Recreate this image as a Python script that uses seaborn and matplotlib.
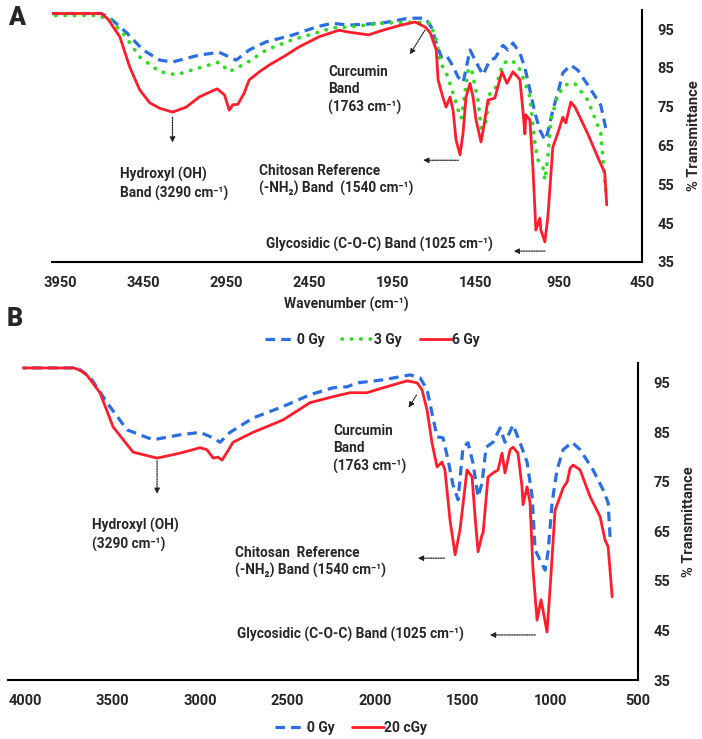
import matplotlib
matplotlib.use('Agg')
import matplotlib.pyplot as plt
import seaborn as sns

# ---- panel A data (wavenumber cm-1, % transmittance) ----
wn_a_0 = [4000, 3700, 3640, 3548, 3450, 3350, 3273, 3112, 2992, 2890, 2812, 2710, 2554, 2410,
          2314, 2214, 2015, 1854, 1753, 1717, 1687, 1657, 1627, 1597, 1555, 1525, 1484, 1448,
          1406, 1364, 1334, 1286, 1256, 1226, 1184, 1154, 1124, 1094, 1064, 1034, 1016, 986,
          956, 926, 878, 836, 776, 698, 668]
t_a_0 = [99, 99, 97.5, 94, 89.6, 87, 86.5, 88.3, 89, 87, 89.6, 91.7, 93.4, 95.5,
         96.5, 96, 96.5, 97.8, 97.8, 95.5, 91.4, 87.8, 88.3, 86.2, 82.6, 81.3, 89.6, 86.5,
         83.2, 87, 87.5, 90.8, 89.6, 91.4, 88.8, 85, 79.3, 73.4, 69, 66.4, 68.5, 74.1,
         78.5, 83.7, 85.7, 84.4, 80.6, 75.4, 69.5]

wn_a_3 = [4000, 3720, 3650, 3572, 3470, 3350, 3250, 3112, 2992, 2932, 2830, 2710, 2554, 2392,
          2314, 2214, 2015, 1814, 1723, 1687, 1663, 1633, 1597, 1555, 1537, 1495, 1477, 1436,
          1418, 1394, 1364, 1334, 1286, 1238, 1196, 1166, 1124, 1094, 1076, 1046, 1034, 1016,
          998, 956, 914, 854, 776, 698, 668]
t_a_3 = [98.5, 98.5, 97.3, 94, 87.8, 84, 83.2, 85, 86.5, 84, 86.2, 89.6, 92.2, 94.2,
         95.3, 95.5, 96.5, 96.8, 96.5, 92.2, 86.2, 84.4, 80, 74.1, 72, 84.4, 85, 76.7,
         69.5, 69.8, 78.5, 79.3, 86.2, 87, 85.7, 82.6, 77.5, 65.6, 61.3, 59.5, 56.1, 62,
         71.6, 78, 80.6, 81, 76.7, 68.2, 53.5]

wn_a_6 = [4000, 3700, 3660, 3590, 3530, 3470, 3410, 3351, 3273, 3190, 3112, 3052, 3004, 2960,
          2932, 2910, 2880, 2842, 2812, 2750, 2692, 2600, 2512, 2392, 2272, 2214, 2094, 2000,
          1900, 1814, 1753, 1723, 1687, 1676, 1646, 1628, 1604, 1586, 1568, 1544, 1526, 1508,
          1484, 1466, 1448, 1418, 1406, 1376, 1335, 1292, 1262, 1226, 1184, 1166, 1154, 1148,
          1124, 1106, 1088, 1064, 1058, 1034, 1016, 986, 956, 926, 908, 878, 854, 820,
          776, 716, 674, 662]
t_a_6 = [99, 99, 97.5, 93, 85.2, 79.3, 76, 74.6, 73.6, 74.9, 77.5, 78.7, 79.6, 78,
         74.1, 75.5, 75.6, 78.5, 81.9, 84, 85.7, 88, 90.4, 93, 94.7, 94.2, 93.5, 94.8,
         96, 96.8, 95.5, 94, 89.6, 81.9, 77.2, 74.9, 77.5, 74.1, 66.4, 62.6, 68.2, 77.5,
         81, 77.5, 71.6, 65.9, 68.7, 76.7, 77.2, 84, 81, 84, 82, 74, 68, 72.9,
         71.6, 59.5, 43.2, 46.3, 43.2, 40.2, 46.6, 64.6, 68.2, 72.3, 70.8, 76.2, 75, 72,
         68, 62, 58, 49.7]

# ---- panel B data ----
wn_b_0 = [4010, 3700, 3629, 3532, 3417, 3269, 3115, 3001, 2926, 2886, 2829, 2698, 2527, 2372,
          2241, 2161, 2100, 1955, 1801, 1744, 1704, 1676, 1647, 1613, 1584, 1556, 1527, 1499,
          1470, 1442, 1413, 1390, 1367, 1327, 1287, 1259, 1213, 1173, 1133, 1104, 1087, 1059,
          1030, 1013, 990, 962, 927, 876, 830, 756, 699, 670, 659]
t_b_0 = [98, 98, 96.2, 91, 85.5, 83.5, 84.5, 85, 83.9, 83, 85, 87.9, 90.2, 92.6,
         94, 94.2, 95, 95.6, 96.6, 96, 93.6, 88.9, 84.1, 83.9, 79.4, 74.4, 71.4, 82,
         82.9, 78.8, 72, 74.8, 82, 83, 85.9, 83, 86.5, 82.9, 79, 72, 61.3, 59.2,
         57.2, 60.9, 70.8, 77.4, 81.5, 83, 81.5, 77.4, 73.4, 70.8, 63.9]

wn_b_20 = [4010, 3720, 3680, 3646, 3572, 3497, 3383, 3246, 3115, 3001, 2961, 2926, 2898, 2875,
           2846, 2812, 2698, 2527, 2372, 2241, 2144, 2047, 1955, 1818, 1761, 1733, 1704, 1676,
           1647, 1619, 1602, 1573, 1544, 1516, 1476, 1447, 1430, 1413, 1390, 1384, 1356, 1327,
           1299, 1276, 1259, 1230, 1213, 1185, 1162, 1156, 1133, 1116, 1099, 1076, 1053, 1042,
           1019, 1001, 973, 945, 927, 904, 887, 870, 830, 773, 716, 688, 670, 647]
t_b_20 = [98, 98, 97.4, 96.5, 93, 86.1, 81, 79.8, 80.8, 81.9, 81.5, 79.8, 80, 79.4,
          81, 83, 85, 87.5, 91, 92.2, 93, 93, 94, 95.4, 95, 93.6, 89.5, 82.9,
          78, 79, 77.4, 67.3, 60.3, 65.3, 77.4, 76, 68, 60.9, 64.3, 64.7, 76, 76.8,
          77.4, 80.8, 76.8, 81.5, 82, 80.8, 74, 70.4, 74, 70.8, 57.2, 47.1, 51.2, 49.1,
          44.7, 53.8, 69.3, 72, 73.8, 75, 77.8, 78.4, 77.4, 72, 68, 63.3, 61.9, 51.8]

ticks_a = [3950, 3450, 2950, 2450, 1950, 1450, 950, 450]
ticks_b = [4000, 3500, 3000, 2500, 2000, 1500, 1000, 500]
ticks_y = [35, 45, 55, 65, 75, 85, 95]

BLUE = '#2b6ee3'
GREEN = '#2fdc1e'
RED = '#ff1c2b'

sns.set_style('white')
plt.rcParams['font.family'] = ['Roboto', 'DejaVu Sans']
plt.rcParams['font.weight'] = 'bold'

fig = plt.figure(figsize=(7.02, 7.39), dpi=100)
ax_a = fig.add_axes([0.0735, 0.6455, 0.841, 0.3415])
ax_b = fig.add_axes([0.0107, 0.0798, 0.898, 0.429])

dash = dict(ls=(0, (3, 1.9)), lw=2.3, color=BLUE)
dots = dict(ls=(0, (0.1, 2.4)), lw=2.7, color=GREEN, dash_capstyle='round')
solid = dict(ls='-', lw=2.0, color=RED)

sns.lineplot(x=wn_a_0, y=t_a_0, ax=ax_a, label='0 Gy', **dash)
sns.lineplot(x=wn_a_3, y=t_a_3, ax=ax_a, label='3 Gy', **dots)
sns.lineplot(x=wn_a_6, y=t_a_6, ax=ax_a, label='6 Gy', **solid)

sns.lineplot(x=wn_b_0, y=t_b_0, ax=ax_b, label='0 Gy', **dash)
sns.lineplot(x=wn_b_20, y=t_b_20, ax=ax_b, label='20 cGy', **solid)

ax_a.set_xlim(4000, 450)
ax_a.set_ylim(35, 100)
ax_b.set_xlim(4100, 500)
ax_b.set_ylim(35, 99)
ax_a.set_xticks(ticks_a)
ax_b.set_xticks(ticks_b)

for ax in (ax_a, ax_b):
    ax.set_yticks(ticks_y)
    ax.yaxis.tick_right()
    ax.yaxis.set_label_position('right')
    ax.spines['left'].set_visible(False)
    ax.spines['top'].set_visible(False)
    for s in ('right', 'bottom'):
        ax.spines[s].set_color('black')
        ax.spines[s].set_linewidth(1.5)
    ax.tick_params(axis='y', length=0, pad=11, labelsize=10.5)
    ax.tick_params(axis='x', length=0, pad=10, labelsize=10.5)
    ax.set_ylabel('% Transmittance', fontsize=10.5, fontweight='bold')
    ax.set_xlabel('')

ax_a.yaxis.set_label_coords(1.076, 0.5)
ax_b.yaxis.set_label_coords(1.07, 0.5)
ax_a.set_xlabel('Wavenumber (cm\u207b\u00b9)', fontsize=10, fontweight='bold')
ax_a.xaxis.set_label_coords(0.5, -0.14)

leg_kw = dict(loc='center', ncol=3, frameon=False, fontsize=10, handlelength=2.3,
              handletextpad=0.0, columnspacing=1.3)
ax_a.legend(bbox_to_anchor=(0.543, -0.309), **leg_kw)
ax_b.legend(bbox_to_anchor=(0.545, -0.151), **leg_kw)

fig.text(0.023, 0.975, 'A', fontsize=18, fontweight='heavy', ha='center', va='center')
fig.text(0.021, 0.568, 'B', fontsize=18, fontweight='heavy', ha='center', va='center')

arrow = dict(arrowstyle='-|>', ls=(0, (1, 1)), lw=0.9, color='#222222', mutation_scale=8)
txt = dict(fontsize=9.8, fontweight='bold', ha='left', va='center', linespacing=1.3)

# panel A notes
ax_a.text(3591, 55.1, 'Hydroxyl (OH)\nBand (3290 cm\u207b\u00b9)', **txt)
ax_a.annotate('', xy=(3273, 65), xytext=(3273, 73), arrowprops=arrow)
ax_a.text(2335, 79.3, 'Curcumin\nBand\n(1763 cm\u207b\u00b9)', **txt)
ax_a.annotate('', xy=(1855, 87.8), xytext=(1747, 95.3), arrowprops=arrow)
ax_a.text(2753, 56.1, 'Chitosan Reference\n(-NH\u2082) Band  (1540 cm\u207b\u00b9)', **txt)
ax_a.annotate('', xy=(1783, 61.2), xytext=(1538, 61.2), arrowprops=arrow)
ax_a.text(2711, 39.4, 'Glycosidic (C-O-C) Band (1025 cm\u207b\u00b9)', **txt)
ax_a.annotate('', xy=(1239, 37.8), xytext=(1017, 37.8), arrowprops=arrow)

# panel B notes
ax_b.text(3617, 64.3, 'Hydroxyl (OH)\n(3290 cm\u207b\u00b9)', **txt)
ax_b.annotate('', xy=(3246, 72), xytext=(3246, 79.8), arrowprops=arrow)
ax_b.text(2241, 81.7, 'Curcumin\nBand\n(1763 cm\u207b\u00b9)', **txt)
ax_b.annotate('', xy=(1818, 89.5), xytext=(1756, 93), arrowprops=arrow)
ax_b.text(2801, 58.8, 'Chitosan  Reference\n(-NH\u2082) Band (1540 cm\u207b\u00b9)', **txt)
ax_b.annotate('', xy=(1773, 59.6), xytext=(1590, 59.6), arrowprops=arrow)
ax_b.text(2789, 44.1, 'Glycosidic (C-O-C) Band (1025 cm\u207b\u00b9)', **txt)
ax_b.annotate('', xy=(1362, 44.1), xytext=(1070, 44.1), arrowprops=arrow)

fig.savefig('out.png', dpi=100)
